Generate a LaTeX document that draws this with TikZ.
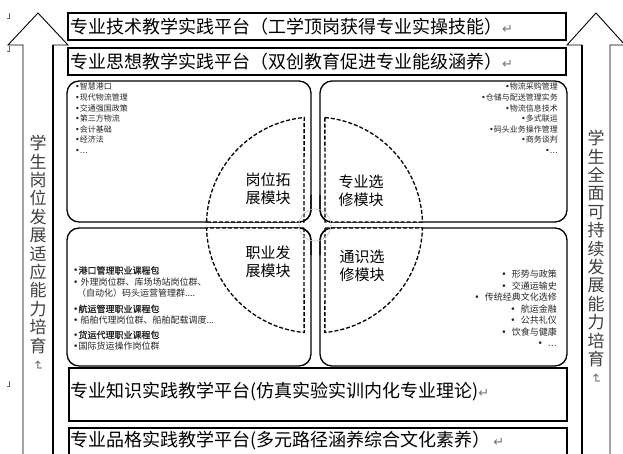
\documentclass[tikz,border=0pt]{standalone}
\usepackage{fontspec}
\usepackage{graphicx}
\usetikzlibrary{calc}
\setmainfont{Liberation Serif}
\newfontfamily\cjk{Noto Sans CJK SC}
\newfontfamily\cjkb[FakeBold=1.2]{Noto Sans CJK SC}
\newfontfamily\dv{DejaVu Sans}
\newcommand\retm{{\dv\color{black!55}\fontsize{13}{13}\selectfont ↵}}
\newcommand\bul{{\dv •}}
\newcommand\dotsym{{\dv …}}
\begin{document}
\begin{tikzpicture}[x=1pt,y=-1pt,
  arrowline/.style={draw=black, line width=0.9pt, line join=miter},
  platbox/.style={draw=black, line width=1.4pt},
  rbox/.style={draw=black, line width=1.3pt, rounded corners=12pt, fill=white},
  rline/.style={draw=black, line width=1.3pt},
  sector/.style={draw=black, line width=1.3pt, dash pattern=on 4pt off 2pt, fill=white},
  bigtxt/.style={font=\cjk\fontsize{18}{20}\selectfont, anchor=west, inner sep=0pt},
  modtxt/.style={font=\cjk\fontsize{15}{18}\selectfont, align=center, inner sep=0pt},
  smalltl/.style={font=\cjk\fontsize{8}{10.6}\selectfont, inner sep=0pt, text=black!85},
  smallbl/.style={font=\cjk\fontsize{9}{11.5}\selectfont, inner sep=0pt, text=black!85},
  vtxt/.style={font=\cjk\fontsize{17}{18.4}\selectfont, align=center, inner sep=0pt, text=black!75},
  cornermark/.style={draw=black!60, line width=0.5pt}
]
\useasboundingbox (0,0) rectangle (623,454);
\fill[white] (0,0) rectangle (623,454);

% corner marks
\draw[cornermark] (9,13) -- (9,18) -- (7,18);
\draw[cornermark] (9,46) -- (9,51) -- (7,51);
\draw[cornermark] (9,381) -- (9,386) -- (7,386);

% big block arrows
\draw[arrowline] (23,460) -- (23,45) -- (8,45) -- (38,13) -- (68,45) -- (53,45) -- (53,460);
\draw[line width=1.5pt] (53,45) -- (53,460);
\draw[arrowline] (610,460) -- (610,45) -- (625,45) -- (596,13) -- (567,45) -- (582,45) -- (582,460);
\draw[line width=1.5pt] (582,45) -- (582,460);

\node[vtxt, anchor=north] (vl) at (38,135) {学\\生\\岗\\位\\发\\展\\适\\应\\能\\力\\培\\育\\[-10pt]\rotatebox{-90}{\retm}};
\node[vtxt, anchor=north] (vr) at (596,130) {学\\生\\全\\面\\可\\持\\续\\发\\展\\能\\力\\培\\育\\[-10pt]\rotatebox{-90}{\retm}};

% platform boxes
\draw[platbox] (68,13) rectangle (566,40);
\node[bigtxt] (t1) at (70,27) {专业技术教学实践平台（工学顶岗获得专业实操技能）\retm};
\draw[platbox] (68,48) rectangle (566,75);
\node[bigtxt] (t2) at (70,62) {专业思想教学实践平台（双创教育促进专业能级涵养）\retm};
\draw[platbox] (69,368) rectangle (567,421);
\node[bigtxt] (t3) at (70,392) {专业知识实践教学平台(仿真实验实训内化专业理论)\retm};
\draw[platbox] (69,428) rectangle (567,470);
\node[bigtxt] (t4) at (70,441) {专业品格实践教学平台(多元路径涵养综合文化素养）\,\retm};

% four rounded module boxes
\draw[rbox] (67,81) rectangle (311,222);
\draw[rbox] (320,81) rectangle (567,222);
\draw[rbox] (67,228) rectangle (311,366);
\draw[rbox] (320,228) rectangle (567,366);

% dashed circle split into four sectors
\coordinate (C) at (314.5,225);
\path[sector] ($(C)+(181.6:108)$) arc[start angle=181.6,end angle=264.5,radius=108] -- (304,222) -- cycle;
\path[sector] ($(C)+(275.5:108)$) arc[start angle=275.5,end angle=358.4,radius=108] -- (325,222) -- cycle;
\path[sector] (304,228) -- ($(C)+(95.5:108)$) arc[start angle=95.5,end angle=178.4,radius=108] -- cycle;
\path[sector] (325,228) -- ($(C)+(1.6:108)$) arc[start angle=1.6,end angle=84.5,radius=108] -- cycle;

% inner corners of the boxes
\draw[rline] (311,195) -- (311,210) arc[start angle=0,end angle=90,radius=12];
\draw[rline] (320,195) -- (320,210) arc[start angle=180,end angle=90,radius=12];
\draw[rline] (311,255) -- (311,240) arc[start angle=0,end angle=-90,radius=12];
\draw[rline] (320,255) -- (320,240) arc[start angle=180,end angle=270,radius=12];

\draw[draw={rgb,255:red,185;green,198;blue,218}, line width=0.7pt] (315,225) circle[radius=16];

% module labels
\node[modtxt] (m1) at (268,189) {岗位拓\\展模块};
\node[modtxt] (m2) at (361,191) {专业选\\修模块};
\node[modtxt] (m3) at (268,262) {职业发\\展模块};
\node[modtxt] (m4) at (362,266) {通识选\\修模块};

% lists
\node[smalltl, anchor=north west, align=left] (l1) at (75,83) {\bul 智慧港口\\\bul 现代物流管理\\\bul 交通强国政策\\\bul 第三方物流\\\bul 会计基础\\\bul 经济法\\\bul \dotsym};
\node[smalltl, anchor=north east, align=right] (l2) at (558,83) {\bul 物流采购管理\\\bul 仓储与配送管理实务\\\bul 物流信息技术\\\bul 多式联运\\\bul 码头业务操作管理\\\bul 商务谈判\\\bul \dotsym};
\node[smallbl, anchor=north west, align=left] (l3) at (73,266) {{\cjkb\bul 港口管理职业课程包}\\\bul\ 外理岗位群、库场场站岗位群、\\\hspace{4pt}（自动化）码头运营管理群....\\[4pt]{\cjkb\bul 航运管理职业课程包}\\\bul\ 船舶代理岗位群、船舶配载调度...\\[3pt]{\cjkb\bul 货运代理职业课程包}\\\bul 国际货运操作岗位群};
\node[smallbl, anchor=north east, align=right] (l4) at (557,270) {\bul\hspace{5pt}形势与政策\\\bul\hspace{5pt}交通运输史\\\bul\hspace{5pt}传统经典文化选修\\\bul\hspace{5pt}航运金融\\\bul\hspace{5pt}公共礼仪\\\bul\hspace{5pt}饮食与健康\\\bul\hspace{5pt}\dotsym};
\end{tikzpicture}
\end{document}
